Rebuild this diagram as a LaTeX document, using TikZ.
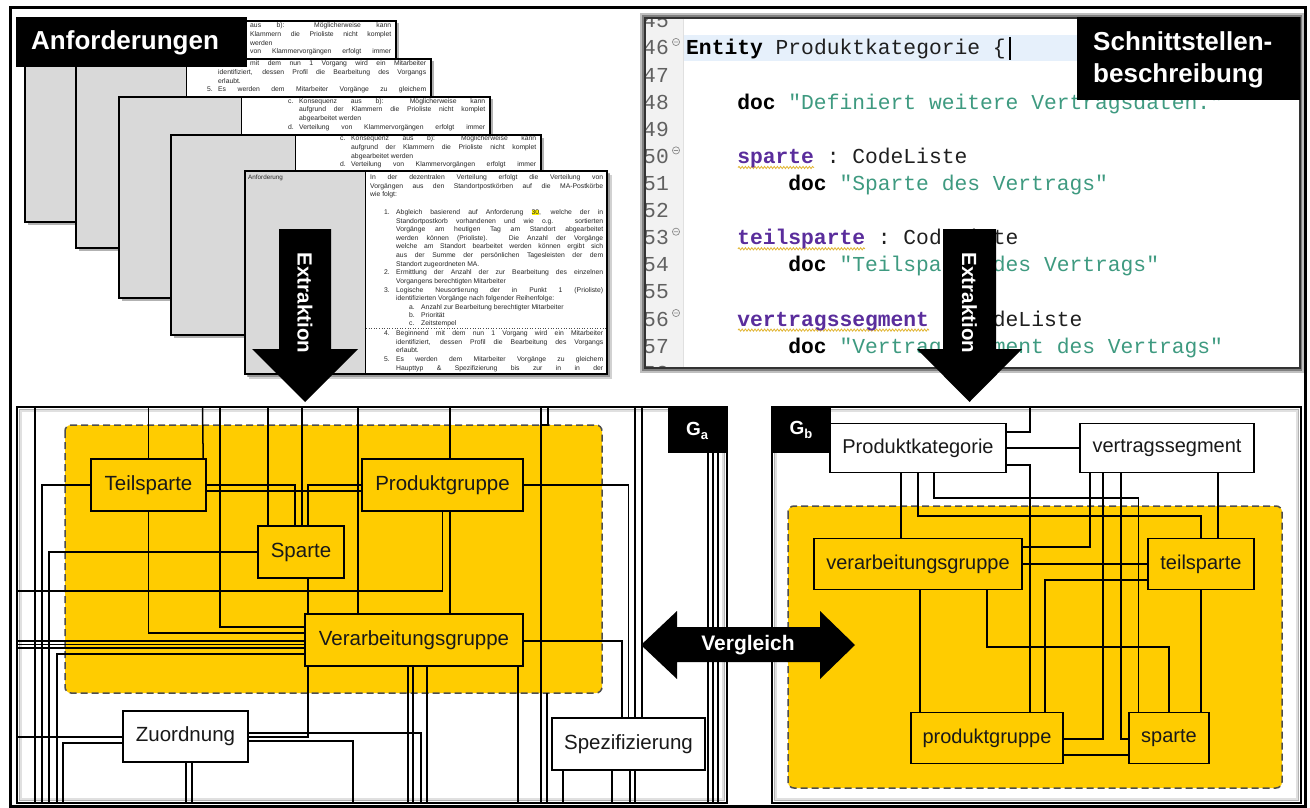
\documentclass[tikz,border=0pt]{standalone}
\usepackage{fontspec}
\setmainfont{Liberation Sans}
\setmonofont{Liberation Mono}
\usetikzlibrary{decorations.pathmorphing}
\definecolor{gold}{HTML}{FFCC00}
\definecolor{kwpurple}{HTML}{5A2D9C}
\definecolor{strteal}{HTML}{3E9A80}
\definecolor{pagegray}{HTML}{D9D9D9}
\definecolor{hiblue}{HTML}{E6F0FB}
\definecolor{regionborder}{HTML}{4D4D4D}
\definecolor{squig}{HTML}{E2B634}
\newcommand\myfs[1]{\fontsize{#1pt}{#1pt}\selectfont}
\pgfdeclarelayer{back}
\pgfdeclarelayer{mid}
\pgfsetlayers{back,mid,main}
\newcommand\docpage[6]{%
  \fill[black!#6] (#1+2.5,#2+2.5) rectangle (#3+2.5,#4+2.5);
  \fill[white] (#1,#2) rectangle (#3,#4);
  \fill[pagegray] (#1,#2) rectangle (#5,#4);
  \draw[line width=1.1pt] (#1,#2) rectangle (#3,#4);
  \draw[line width=0.9pt] (#5,#2) -- (#5,#4);
}
\newcommand\cdlines[3]{%
  \node[ptext] at (#1,#2) {c.};
  \node[ptext] at (#1+11,#2) {\makebox[#3pt][s]{Konsequenz aus b): Möglicherweise kann}};
  \node[ptext] at (#1+11,#2+8.8) {\makebox[#3pt][s]{aufgrund der Klammern die Prioliste nicht komplet}};
  \node[ptext] at (#1+11,#2+17.6) {abgearbeitet werden};
  \node[ptext] at (#1,#2+26.4) {d.};
  \node[ptext] at (#1+11,#2+26.4) {\makebox[#3pt][s]{Verteilung von Klammervorgängen erfolgt immer}};
}
\newcommand\pj[4]{\node[ptext] at (#1,#2) {\makebox[#3pt][s]{#4}};}
\newcommand\pl[3]{\node[ptext] at (#1,#2) {#3};}
\newcommand\lnum[2]{\node[lnumst] at (669,#1) {#2};}
\newcommand\fold[1]{\draw[black!45, line width=0.7pt] (676,#1-13) circle (3.6pt) (673.8,#1-13) -- (678.2,#1-13);}
\begin{document}
\begin{tikzpicture}[x=1pt,y=-1pt,
  ynode/.style={draw=black, line width=1.4pt, fill=gold, inner sep=0pt, font=\myfs{20.5}, text=black!90},
  wnode/.style={ynode, fill=white},
  bnode/.style={ynode, font=\myfs{20}},
  bwnode/.style={wnode, font=\myfs{20}},
  region/.style={fill=gold, draw=regionborder, line width=1.5pt, dash pattern=on 7pt off 4pt, rounded corners=6pt},
  frame/.style={draw=black, line width=1.6pt, fill=white, inner sep=0pt},
  blabel/.style={fill=black, inner sep=0pt},
  wtext/.style={text=white, font=\bfseries\myfs{26}, inner sep=0pt},
  ptext/.style={font=\myfs{6.8}, inner sep=0pt, anchor=base west, text=black!85},
  code/.style={font=\ttfamily\myfs{21.3}, inner sep=0pt, anchor=base west, text=black!88},
  lnumst/.style={font=\ttfamily\myfs{21.3}, inner sep=0pt, anchor=base east, text=black!62},
  squiggle/.style={squig, line width=0.8pt, decorate, decoration={snake, amplitude=1.1pt, segment length=3.2pt}},
  conn/.style={line width=1.5pt, black}
]
\useasboundingbox (0,0) rectangle (1310,808);
\begin{pgfonlayer}{back}
\fill[white] (0,0) rectangle (1310,808);
\end{pgfonlayer}

% ================= document pages =================
\docpage{25}{21}{396}{222}{145}{30}
\pj{250}{27.5}{141}{aus b): Möglicherweise kann}
\pj{250}{36.3}{141}{Klammern die Prioliste nicht komplet}
\pl{250}{45.1}{werden}
\pj{250}{53.9}{141}{von Klammervorgängen erfolgt immer}
\docpage{76}{59}{431}{248}{186}{30}
\begin{scope}\clip (186,59) rectangle (431,248);
\pj{250}{65.5}{176}{mit dem nun 1 Vorgang wird ein Mitarbeiter}
\pj{218}{74.3}{208}{identifiziert, dessen Profil die Bearbeitung des Vorgangs}
\pl{218}{83.1}{erlaubt.}
\pl{207}{91.9}{5.}\pj{218}{91.9}{208}{Es werden dem Mitarbeiter Vorgänge zu gleichem}
\end{scope}
\docpage{119}{97}{490}{298}{241}{30}
\begin{scope}\clip (241,97) rectangle (490,298);
\cdlines{288}{103}{186}
\end{scope}
\docpage{171}{135}{541}{335}{295}{30}
\begin{scope}\clip (295,135) rectangle (541,335);
\cdlines{340}{140.5}{185}
\end{scope}
% front page
\fill[black!18] (249,175) rectangle (612,379);
\fill[black!30] (247,173) rectangle (610,377);
\docpage{245}{171}{607}{374}{365}{40}
\node[ptext, font=\myfs{6.3}] at (248,179) {Anforderung};
\pj{370}{179.5}{233}{In der dezentralen Verteilung erfolgt die Verteilung von}
\pj{370}{188}{233}{Vorgängen aus den Standortpostkörben auf die MA-Postkörbe}
\pl{370}{196.5}{wie folgt:}
\pl{384}{214.5}{1.}\pj{396}{214.5}{207}{Abgleich basierend auf Anforderung {\setlength\fboxsep{0pt}\colorbox{yellow}{30},} welche der in}
\pj{396}{223}{207}{Standortpostkorb vorhandenen und wie o.g. sortierten}
\pj{396}{231.5}{207}{Vorgänge am heutigen Tag am Standort abgearbeitet}
\pj{396}{240}{207}{werden können (Prioliste). Die Anzahl der Vorgänge}
\pj{396}{248.8}{207}{welche am Standort bearbeitet werden können ergibt sich}
\pj{396}{257.6}{207}{aus der Summe der persönlichen Tagesleisten der dem}
\pl{396}{266.2}{Standort zugeordneten MA.}
\pl{384}{274.8}{2.}\pj{396}{274.8}{207}{Ermittlung der Anzahl der zur Bearbeitung des einzelnen}
\pl{396}{283.4}{Vorgangens berechtigten Mitarbeiter}
\pl{384}{292.2}{3.}\pj{396}{292.2}{207}{Logische Neusortierung der in Punkt 1 (Prioliste)}
\pl{396}{300.8}{identifizierten Vorgänge nach folgender Reihenfolge:}
\pl{409}{309.8}{a.}\pl{421}{309.8}{Anzahl zur Bearbeitung berechtigter Mitarbeiter}
\pl{409}{317.8}{b.}\pl{421}{317.8}{Priorität}
\pl{409}{325.8}{c.}\pl{421}{325.8}{Zeitstempel}
\draw[black!70, line width=0.6pt, dotted] (366,328.5) -- (606,328.5);
\pl{384}{335.5}{4.}\pj{396}{335.5}{207}{Beginnend mit dem nun 1 Vorgang wird ein Mitarbeiter}
\pj{396}{344.2}{207}{identifiziert, dessen Profil die Bearbeitung des Vorgangs}
\pl{396}{352.9}{erlaubt.}
\pl{384}{361.6}{5.}\pj{396}{361.6}{207}{Es werden dem Mitarbeiter Vorgänge zu gleichem}
\pj{396}{370.3}{207}{Haupttyp \& Spezifizierung bis zur in in der}

% label Anforderungen
\node[blabel, minimum width=231pt, minimum height=50pt] (anf) at (131.5,42) {};
\node[wtext, anchor=base west] (anft) at (31,50) {Anforderungen};

% Extraktion left
\fill[black] (279,229) -- (331,229) -- (331,349) -- (358,349) -- (305,402) -- (252,349) -- (279,349) -- cycle;
\node[text=white, font=\bfseries\myfs{20.5}, rotate=-90, inner sep=0pt] (ex1) at (305,303) {Extraktion};

% ================= code panel =================
\fill[black!25] (640,13) rectangle (1304,373);
\fill[black!50] (642,15) rectangle (1302,371);
\fill[white] (645,18) rectangle (1300,368);
\begin{scope}
\clip (645,18) rectangle (1300,368);
\fill[black!5] (645,18) rectangle (683,368);
\draw[black!12, line width=0.6pt] (683,18) -- (683,368);
\fill[hiblue] (684,35) rectangle (1077,61);
\lnum{28}{45}\lnum{55}{46}\lnum{82.1}{47}\lnum{109.2}{48}\lnum{136.3}{49}
\lnum{163.4}{50}\lnum{190.5}{51}\lnum{217.6}{52}\lnum{244.7}{53}\lnum{271.8}{54}
\lnum{298.9}{55}\lnum{326}{56}\lnum{353.1}{57}\lnum{380.2}{58}
\fold{55}\fold{163.4}\fold{244.7}\fold{326}
\node[code] (c46) at (686,55) {{\bfseries\color{black}Entity} Produktkategorie \{};
\draw[black, line width=1.4pt] (1010,37) -- (1010,60);
\node[code] (c48) at (737.1,109.2) {{\bfseries\color{black}doc} {\color{strteal}"Definiert weitere Vertragsdaten."}};
\draw[squiggle] (738,167.5) -- (814,167.5);
\node[code] (c50) at (737.1,163.4) {{\bfseries\color{kwpurple}sparte} : CodeListe};
\node[code] (c51) at (788.2,190.5) {{\bfseries\color{black}doc} {\color{strteal}"Sparte des Vertrags"}};
\draw[squiggle] (738,248.8) -- (865,248.8);
\node[code] (c53) at (737.1,244.7) {{\bfseries\color{kwpurple}teilsparte} : CodeListe};
\node[code] (c54) at (788.2,271.8) {{\bfseries\color{black}doc} {\color{strteal}"Teilsparte des Vertrags"}};
\draw[squiggle] (738,330.1) -- (929,330.1);
\node[code] (c56) at (737.1,326) {{\bfseries\color{kwpurple}vertragssegment} : CodeListe};
\node[code] (c57) at (788.2,353.1) {{\bfseries\color{black}doc} {\color{strteal}"Vertragssegment des Vertrags"}};
\end{scope}
\draw[black!80, line width=1.6pt] (645,18) rectangle (1300,368);
% label Schnittstellenbeschreibung
\node[blabel, minimum width=223pt, minimum height=83pt] (ssb) at (1188.5,58.5) {};
\node[wtext, anchor=base west] (ssb1) at (1093,51) {Schnittstellen-};
\node[wtext, anchor=base west] (ssb2) at (1093,83) {beschreibung};

% Extraktion right
\fill[black] (943,229) -- (996,229) -- (996,349) -- (1022,349) -- (969.5,402) -- (917,349) -- (943,349) -- cycle;
\node[text=white, font=\bfseries\myfs{20.5}, rotate=-90, inner sep=0pt] (ex2) at (969.5,303) {Extraktion};

% ================= G_a =================
\begin{pgfonlayer}{back}
\node[frame, minimum width=710pt, minimum height=396pt] (ga) at (372,605) {};
\draw[black!30, line width=1.6pt] (19.5,409.5) rectangle (724.5,800.5);
\draw[black!12, line width=1.6pt] (21,411) rectangle (723,799);
\draw[region] (65,425) rectangle (602,693);
\node[frame, minimum width=529pt, minimum height=396pt] (gb) at (1036.5,605) {};
\draw[black!30, line width=1.6pt] (774.5,409.5) rectangle (1298.5,800.5);
\draw[black!12, line width=1.6pt] (776,411) rectangle (1297,799);
\draw[region] (788,506) rectangle (1282,788);
\end{pgfonlayer}

\node[ynode, minimum width=115pt, minimum height=52pt] (ts) at (148.5,485) {Teilsparte};
\node[ynode, minimum width=161pt, minimum height=52pt] (pg) at (442.5,485) {Produktgruppe};
\node[ynode, minimum width=86pt, minimum height=52pt] (sp) at (301,552) {Sparte};
\node[ynode, minimum width=218pt, minimum height=52pt] (vg) at (414,640) {Verarbeitungsgruppe};
\node[wnode, minimum width=125pt, minimum height=51pt] (zu) at (185.5,736.5) {Zuordnung};
\node[wnode, minimum width=153pt, minimum height=52pt] (sz) at (628.5,744) {Spezifizierung};
\node[blabel, minimum width=59pt, minimum height=45pt] (gal) at (697.5,430.5) {};
\node[text=white, inner sep=0pt] (galt) at (697,431) {\bfseries\myfs{19}G\raisebox{-4.5pt}{\myfs{13}a}};

\begin{pgfonlayer}{mid}
\begin{scope}[conn]
\draw (35,407) -- (35,803);
\draw (541,407) -- (541,803);
\draw (548,407) -- (548,425) -- (541,425);
\draw (547,693) -- (547,803);
\draw (ts.north) -- (148.5,407);
\draw ([xshift=-3.5pt]ts.north east) -- (202.5,407);
\draw (ts.west) -| (42,803);
\draw (ts.east) -| ([xshift=-6pt]sp.north);
\draw ([yshift=-6pt]ts.east) -- ([yshift=-6pt]pg.west);
\draw (ts.south) |- ([yshift=7pt]vg.west);
\draw ([xshift=7.5pt]pg.north) -- (450,407);
\draw (pg.west) -| ([xshift=7pt]sp.north);
\draw (pg.east) -| (sz.north);
\draw (pg.south) |- (17,591);
\draw ([xshift=7.5pt]pg.south) -- ([xshift=36pt]vg.north);
\draw ([xshift=-33pt]sp.north) -- (268,407);
\draw ([xshift=1pt]sp.north) -- (302,407);
\draw (sp.west) -| (49,803);
\draw ([xshift=7pt]sp.south) -- ([xshift=-106pt]vg.north);
\draw ([xshift=-56pt]vg.north) -- (358,407);
\draw (220,407) |- ([yshift=13pt]vg.west);
\draw ([yshift=-1pt]vg.west) -- (17,641);
\draw ([yshift=-4.5pt]vg.west) -- (17,644.5);
\draw ([yshift=-8pt]vg.west) -- (17,648);
\draw ([yshift=-14pt]vg.west) -| (57,803);
\draw ([yshift=-1pt]vg.east) -| ([xshift=-6.5pt]sz.north);
\draw ([xshift=-106pt]vg.south) |- ([yshift=-0.5pt]zu.east);
\draw ([xshift=-6pt]vg.south) -- (408,803);
\draw ([xshift=-1pt]vg.south) -- (413,803);
\draw ([xshift=13pt]vg.south) -- (427,803);
\draw ([xshift=104pt]vg.south) -- (518,803);
\draw ([yshift=3.5pt]zu.east) -| (421,803);
\draw ([yshift=-4.5pt]zu.east) -| (353,803);
\draw ([yshift=-0.5pt]zu.west) -- (17,737);
\draw ([yshift=-6.5pt]zu.west) -| (63,803);
\draw ([xshift=0.5pt]zu.south) -- (186,803);
\draw ([xshift=6.5pt]zu.south) -- (192,803);
\draw ([xshift=6.5pt]sz.north) -- (635,407);
\draw ([xshift=13.5pt]sz.north) -- (642,407);
\draw ([xshift=-65.5pt]sz.south) -- (563,803);
\draw ([xshift=-16.5pt]sz.south) -- (612,803);
\draw ([xshift=1.5pt]sz.south) -- (630,803);
\draw ([xshift=6.5pt]sz.south) -- (635,803);
\draw ([xshift=10.5pt]gal.south) -- (708,803);
\draw ([xshift=15.5pt]gal.south) -- (713,803);
\draw ([xshift=20.5pt]gal.south) -- (718,803);
\end{scope}
\end{pgfonlayer}

% ================= G_b =================
\node[bwnode, minimum width=176pt, minimum height=49pt] (pk) at (918,448) {Produktkategorie};
\node[bwnode, minimum width=174pt, minimum height=49pt] (vs) at (1167,448) {vertragssegment};
\node[bnode, minimum width=208pt, minimum height=51pt] (vgb) at (918,564) {verarbeitungsgruppe};
\node[bnode, minimum width=106pt, minimum height=51pt] (tsb) at (1201,564) {teilsparte};
\node[bnode, minimum width=152pt, minimum height=51pt] (pgb) at (987,738) {produktgruppe};
\node[bnode, minimum width=80pt, minimum height=51pt] (spb) at (1169,738) {sparte};
\node[blabel, minimum width=59pt, minimum height=46pt] (gbl) at (801.5,430) {};
\node[text=white, inner sep=0pt] (gblt) at (801,430) {\bfseries\myfs{19}G\raisebox{-4.5pt}{\myfs{13}b}};

\begin{pgfonlayer}{mid}
\begin{scope}[conn]
\draw ([yshift=16pt]pk.east) -| (1030,407);
\draw (pk.east) -- (vs.west);
\draw ([yshift=-17pt]pk.east) -| ([xshift=43pt]pgb.north);
\draw ([xshift=-17pt]pk.south) -- ([xshift=-17pt]vgb.north);
\draw (pk.south) |- (1201,516) -- (tsb.north);
\draw ([xshift=16pt]pk.south) |- (1138.5,498) -- ([xshift=-30.5pt]spb.north);
\draw ([xshift=-77pt]vs.south) |- ([yshift=17pt]vgb.east);
\draw ([xshift=-64pt]vs.south) |- ([yshift=-1pt]pgb.east);
\draw ([xshift=-46pt]vs.south) |- ([yshift=-1pt]spb.west);
\draw ([xshift=51pt]vs.south) -- ([xshift=17pt]tsb.north);
\draw (vgb.east) -- (tsb.west);
\draw ([yshift=-16pt]tsb.west) -| ([xshift=58pt]pgb.north);
\draw ([xshift=2pt]vgb.south) -- ([xshift=-67pt]pgb.north);
\draw ([xshift=69pt]vgb.south) |- (1169,647) -- (spb.north);
\draw (tsb.south) -- (tsb.south |- spb.north);
\draw ([yshift=-17pt]pgb.east) -- ([yshift=-17pt]spb.west);
\end{scope}
\end{pgfonlayer}

% ================= Vergleich =================
\fill[black] (641,645) -- (677,611) -- (677,627) -- (820,627) -- (820,611) -- (855,645) -- (820,679) -- (820,662) -- (677,662) -- (677,679) -- cycle;
\node[text=white, font=\bfseries\myfs{21}, inner sep=0pt] (vgl) at (748,645) {Vergleich};

% outer frame
\draw[black, line width=3pt] (10,8) rectangle (1305,806);
\end{tikzpicture}
\end{document}
